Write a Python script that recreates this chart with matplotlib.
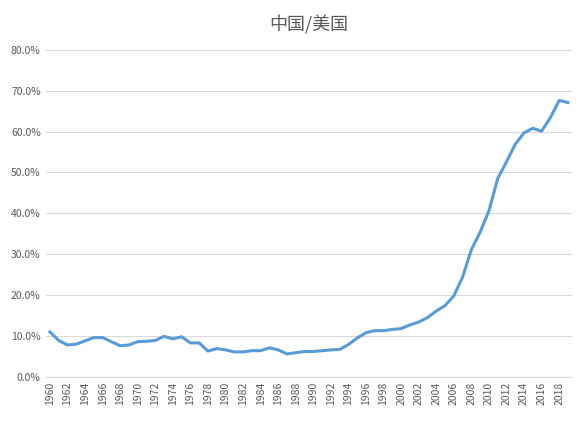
import matplotlib.pyplot as plt
from matplotlib.ticker import FuncFormatter

plt.rcParams['font.family'] = ['Noto Sans CJK SC', 'DejaVu Sans']

years = list(range(1960, 2020))
ratio = [11.0, 8.9, 7.8, 8.0, 8.8, 9.6, 9.6, 8.6, 7.6, 7.8,
         8.6, 8.7, 8.9, 9.9, 9.3, 9.8, 8.3, 8.3, 6.3, 6.9,
         6.6, 6.1, 6.1, 6.4, 6.4, 7.1, 6.6, 5.6, 5.9, 6.2,
         6.2, 6.4, 6.6, 6.7, 7.9, 9.5, 10.8, 11.3, 11.3, 11.6,
         11.8, 12.7, 13.4, 14.5, 16.1, 17.4, 19.8, 24.4, 31.1, 35.4,
         40.6, 48.5, 52.6, 56.9, 59.7, 60.8, 60.1, 63.4, 67.6, 67.1]

fig, ax = plt.subplots(figsize=(5.84, 4.22), dpi=100)
fig.subplots_adjust(left=0.078, right=0.98, top=0.882, bottom=0.107)
ax.plot(years, ratio, color='#5B9BD5', linewidth=2.2)
ax.set_ylim(0, 80)
ax.set_yticks(range(0, 81, 10))
ax.yaxis.set_major_formatter(FuncFormatter(lambda v, p: '%.1f%%' % v))
ax.set_xlim(1959.5, 2019.5)
ax.set_xticks(range(1960, 2020, 2))
ax.tick_params(axis='x', rotation=90, labelsize=7.5, length=0, colors='#595959')
ax.tick_params(axis='y', labelsize=7.5, length=0, colors='#595959')
ax.grid(axis='y', color='#D9D9D9', linewidth=0.8)
for s in ['top', 'right', 'left']:
    ax.spines[s].set_visible(False)
ax.spines['bottom'].set_color('#D9D9D9')
ax.set_title('中国/美国', fontsize=13, color='#595959', pad=14)
fig.savefig('out.png')
